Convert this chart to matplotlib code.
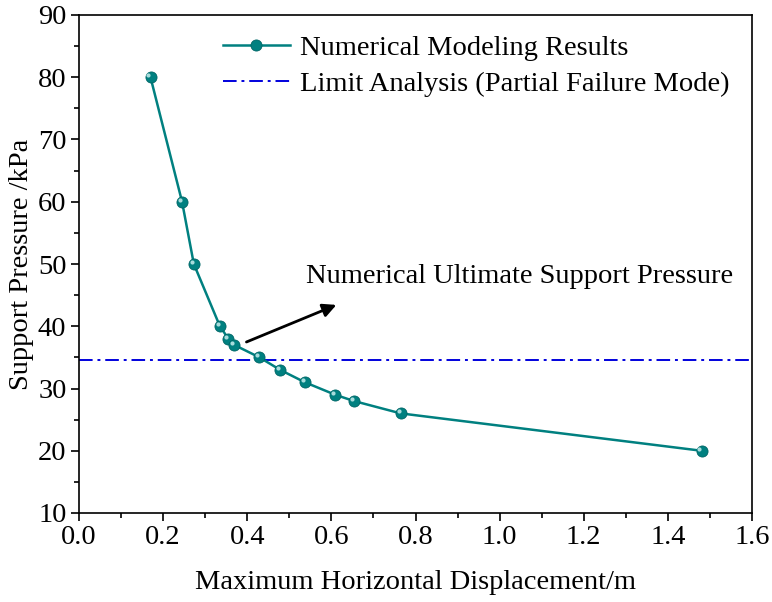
import matplotlib
matplotlib.use("Agg")
import matplotlib.pyplot as plt
from matplotlib.ticker import MultipleLocator

plt.rcParams['font.family'] = ['Liberation Serif', 'DejaVu Serif']
plt.rcParams['mathtext.fontset'] = 'stix'

disp = [0.17, 0.245, 0.273, 0.335, 0.355, 0.369, 0.429, 0.478, 0.537, 0.609, 0.653, 0.765, 1.48]
pressure = [80, 60, 50, 40, 38, 37, 35, 33, 31, 29, 28, 26, 20]
limit_pressure = 34.6

label_num = "Numerical Modeling Results"
label_limit = "Limit Analysis (Partial Failure Mode)"
annot_text = "Numerical Ultimate Support Pressure"

FS = 20.5
fig = plt.figure(figsize=(7.72, 6.02), dpi=100)
ax = fig.add_axes([79/772, 1-513/602, (752-79)/772, (513-15)/602])

teal = '#008080'
ax.axhline(limit_pressure, color='#0000DD', lw=1.4, ls=(0, (7, 2.5, 1.5, 2.5)), label=label_limit, zorder=2)
ax.plot(disp, pressure, color=teal, lw=1.8, marker='o', ms=8,
        markerfacecolor=teal, markeredgecolor='#006666', markeredgewidth=0.6,
        label=label_num, zorder=3)
# specular highlight (upper-left of each sphere)
ax.plot(disp, pressure, ls='none', marker='o', ms=3.0, markerfacecolor='#a8dcdc',
        markeredgecolor='none', zorder=4,
        transform=ax.transData + matplotlib.transforms.ScaledTranslation(-1.5/72, 1.5/72, fig.dpi_scale_trans))

ax.set_xlim(0, 1.6)
ax.set_ylim(10, 90)
ax.xaxis.set_major_locator(MultipleLocator(0.2))
ax.xaxis.set_minor_locator(MultipleLocator(0.1))
ax.yaxis.set_major_locator(MultipleLocator(10))
ax.yaxis.set_minor_locator(MultipleLocator(5))
ax.tick_params(which='both', direction='out', top=False, right=False, labelsize=FS, width=1.2)
ax.tick_params(which='major', length=6, pad=3)
ax.tick_params(which='minor', length=3.5)
ax.xaxis.set_major_formatter(matplotlib.ticker.FormatStrFormatter('%.1f'))
for s in ax.spines.values():
    s.set_linewidth(1.2)

ax.set_xlabel("Maximum Horizontal Displacement/m", fontsize=FS, labelpad=14)
ax.set_ylabel("Support Pressure /kPa", fontsize=FS, labelpad=3)

handles, labels = ax.get_legend_handles_labels()
order = [labels.index(label_num), labels.index(label_limit)]
leg = ax.legend([handles[i] for i in order], [labels[i] for i in order],
                loc='upper left', bbox_to_anchor=((223-79)/673, (513-35)/498), frameon=False,
                fontsize=FS, handlelength=2.35, handletextpad=0.35, labelspacing=0.36,
                borderpad=0, borderaxespad=0)

ax.annotate("", xy=(0.618, 43.6), xytext=(0.392, 37.3),
            arrowprops=dict(arrowstyle='-|>', color='black', lw=2, mutation_scale=20))
ax.text(0.54, 48.0, annot_text, fontsize=FS, ha='left', va='center')

fig.savefig("out.png", dpi=100)
